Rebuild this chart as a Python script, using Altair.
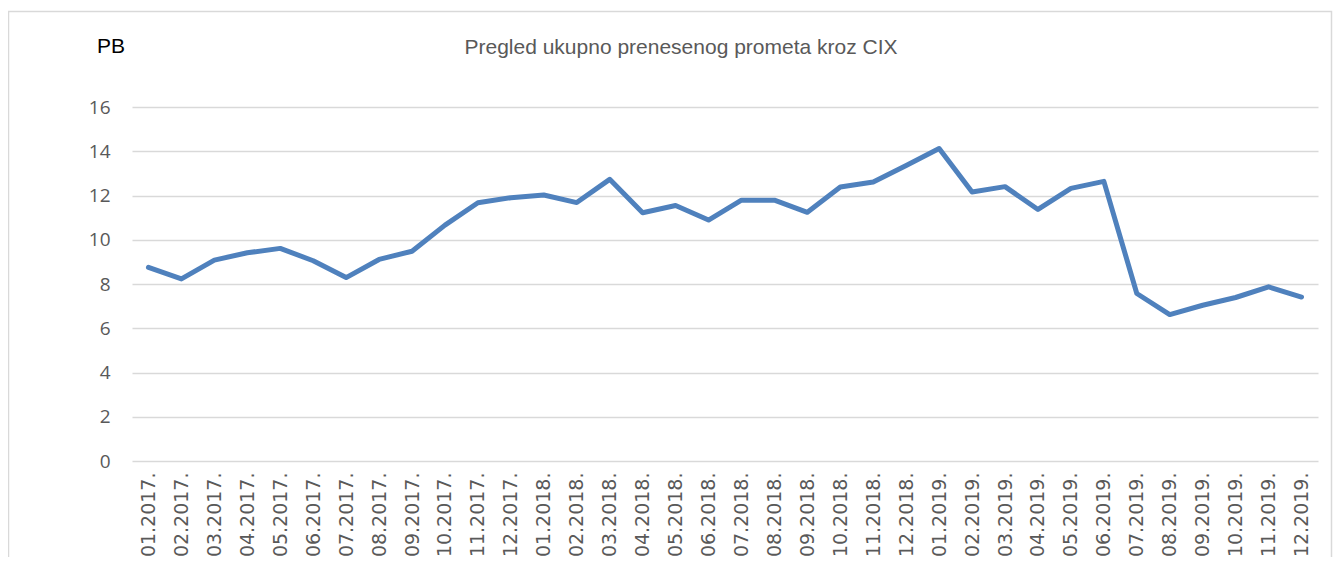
import altair as alt
import pandas as pd

months = [
    "01.2017.", "02.2017.", "03.2017.", "04.2017.", "05.2017.", "06.2017.",
    "07.2017.", "08.2017.", "09.2017.", "10.2017.", "11.2017.", "12.2017.",
    "01.2018.", "02.2018.", "03.2018.", "04.2018.", "05.2018.", "06.2018.",
    "07.2018.", "08.2018.", "09.2018.", "10.2018.", "11.2018.", "12.2018.",
    "01.2019.", "02.2019.", "03.2019.", "04.2019.", "05.2019.", "06.2019.",
    "07.2019.", "08.2019.", "09.2019.", "10.2019.", "11.2019.", "12.2019.",
]
traffic_pb = [
    8.75, 8.23, 9.08, 9.41, 9.61, 9.05,
    8.29, 9.11, 9.48, 10.66, 11.67, 11.90,
    12.02, 11.68, 12.73, 11.22, 11.55, 10.89,
    11.79, 11.79, 11.24, 12.38, 12.61, 13.36,
    14.12, 12.16, 12.40, 11.37, 12.32, 12.64,
    7.57, 6.62, 7.04, 7.39, 7.87, 7.41,
]
y_ticks = [0, 2, 4, 6, 8, 10, 12, 14, 16]
title_text = ["Pregled ukupno prenesenog prometa kroz CIX"]
unit_text = ["PB"]

df = pd.DataFrame({"mjesec": months, "promet": traffic_pb})

W, H = 1186, 354

line = alt.Chart(df).mark_line(
    color="#4F81BD", strokeWidth=5, strokeCap="round", strokeJoin="round"
).encode(
    x=alt.X("mjesec:O", sort=months, title=None,
            scale=alt.Scale(type="point", padding=0.5),
            axis=alt.Axis(labelAngle=270, labelFont="DejaVu Sans", labelFontSize=19,
                          labelColor="#595959", labelPadding=11, ticks=False, tickSize=0,
                          domain=False, grid=False)),
    y=alt.Y("promet:Q", title=None,
            scale=alt.Scale(domain=[0, 16], nice=False),
            axis=alt.Axis(values=y_ticks, labelFont="Open Sans", labelFontSize=19,
                          labelColor="#595959", labelPadding=22, ticks=False, tickSize=0,
                          domain=False, grid=True, gridColor="#D9D9D9", gridWidth=1.3)),
)

title = alt.Chart(pd.DataFrame({"t": title_text})).mark_text(
    font="Liberation Sans", fontSize=21, color="#595959", align="center", baseline="alphabetic"
).encode(text="t:N", x=alt.value(549), y=alt.value(-53))

unit = alt.Chart(pd.DataFrame({"t": unit_text})).mark_text(
    font="Liberation Sans", fontSize=21, color="#000000", align="left", baseline="alphabetic"
).encode(text="t:N", x=alt.value(-35), y=alt.value(-54))

border = alt.Chart(pd.DataFrame({"t": [0]})).mark_rect(
    fill=None, stroke="#D9D9D9", strokeWidth=1.5
).encode(x=alt.value(-123.5), x2=alt.value(1199.5), y=alt.value(-95.5), y2=alt.value(480))

chart = alt.layer(border, line, title, unit).properties(
    width=W, height=H,
    autosize=alt.AutoSizeParams(type="none"),
    padding={"left": 124, "top": 99, "right": 15, "bottom": 96},
).configure_view(stroke=None)

chart.save("out.html", embed_options={"renderer": "svg", "actions": False})
